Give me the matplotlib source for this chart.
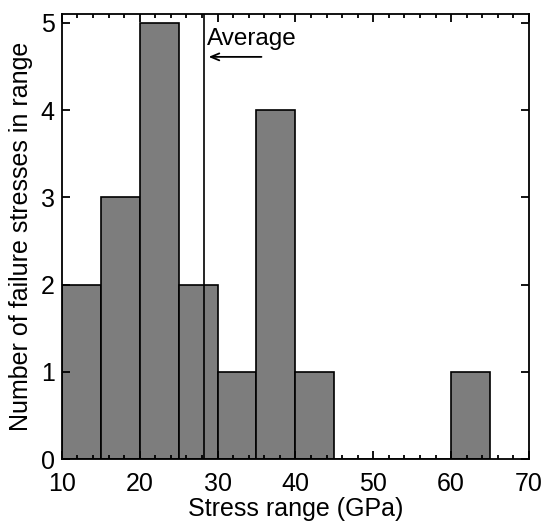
import numpy as np
import matplotlib.pyplot as plt
from matplotlib.ticker import MultipleLocator

# histogram bins (GPa) and counts of failure stresses in each range
bin_edges = [10, 15, 20, 25, 30, 35, 40, 45, 50, 55, 60, 65]
counts = [2, 3, 5, 2, 1, 4, 1, 0, 0, 0, 1]
average_stress = 28.2

plt.rcParams['font.family'] = ['Liberation Sans', 'DejaVu Sans']

fig = plt.figure(figsize=(5.42, 5.23), dpi=100)
ax = fig.add_axes([0.114, 0.122, 0.862, 0.851])

left = np.array(bin_edges[:-1])
widths = np.diff(bin_edges)
ax.bar(left, counts, width=widths, align='edge', color='#7d7d7d',
       edgecolor='black', linewidth=1.2)

ax.axvline(average_stress, color='black', linewidth=1.2)
ax.annotate('', xy=(average_stress + 0.3, 4.61), xytext=(average_stress + 7.8, 4.61),
            arrowprops=dict(arrowstyle='->, head_length=0.6, head_width=0.25',
                            color='black', lw=1.3))
ax.text(average_stress + 0.5, 4.82, 'Average', fontsize=17.5, va='center', ha='left')

ax.set_xlim(10, 70)
ax.set_ylim(0, 5.1)
ax.xaxis.set_major_locator(MultipleLocator(10))
ax.xaxis.set_minor_locator(MultipleLocator(2))
ax.yaxis.set_major_locator(MultipleLocator(1))
for s in ax.spines.values():
    s.set_linewidth(1.3)
ax.tick_params(which='both', direction='in', top=True, right=True, labelsize=18, width=1.3)
ax.tick_params(which='major', length=6)
ax.tick_params(which='minor', length=3)
ax.tick_params(axis='x', pad=9)
ax.tick_params(axis='y', pad=5)

ax.set_xlabel('Stress range (GPa)', fontsize=18, labelpad=1)
ax.set_ylabel('Number of failure stresses in range', fontsize=18, labelpad=6)

fig.savefig('out.png', dpi=100)
